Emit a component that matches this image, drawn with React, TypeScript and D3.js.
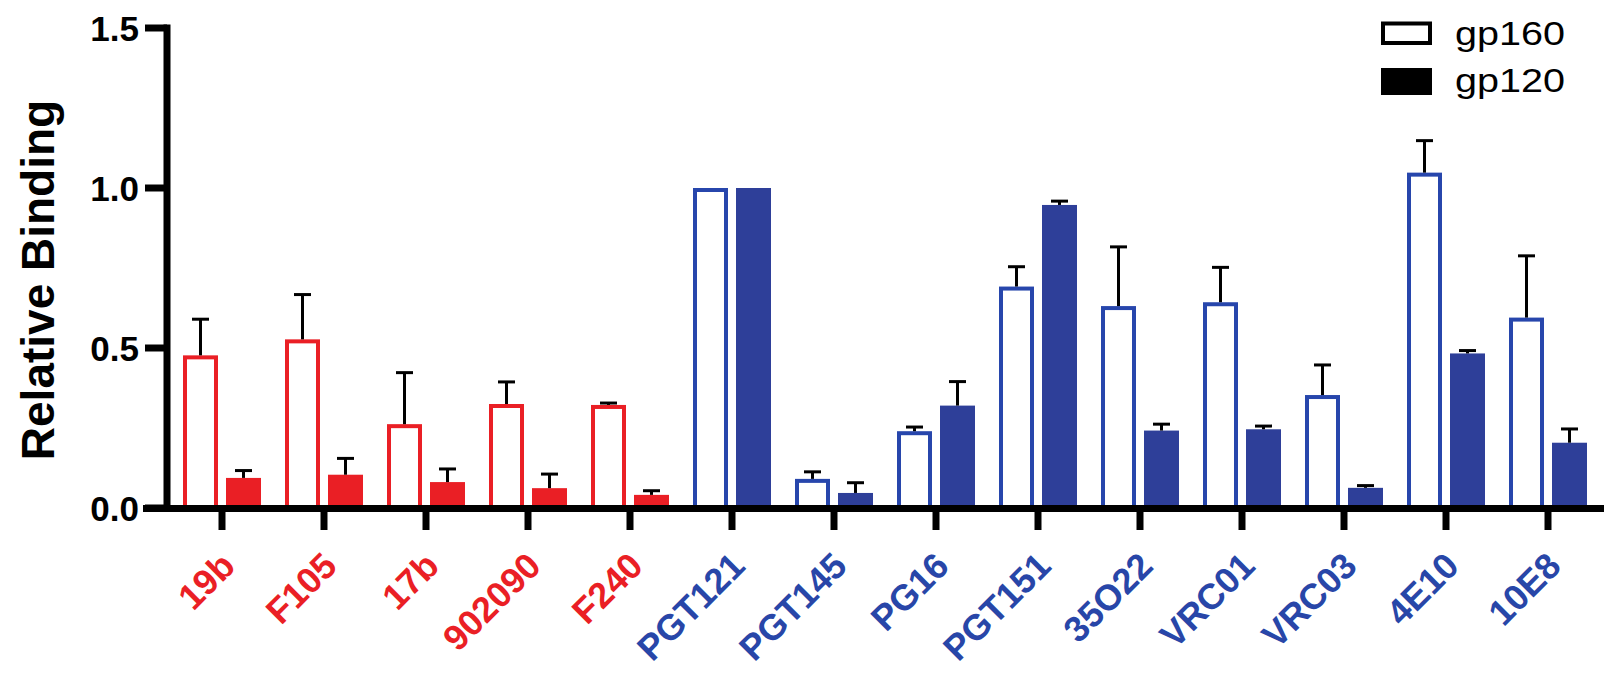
import React from "react";
import * as d3 from "d3";

const categories = ["19b", "F105", "17b", "902090", "F240", "PGT121", "PGT145", "PG16", "PGT151", "35O22", "VRC01", "VRC03", "4E10", "10E8"];
const groups = ["red", "red", "red", "red", "red", "blue", "blue", "blue", "blue", "blue", "blue", "blue", "blue", "blue"];
const gp160Mean = [0.477, 0.527, 0.262, 0.325, 0.322, 1.0, 0.091, 0.24, 0.692, 0.631, 0.643, 0.353, 1.048, 0.595];
const gp160Err = [0.113, 0.14, 0.161, 0.069, 0.006, 0, 0.022, 0.013, 0.062, 0.185, 0.109, 0.094, 0.1, 0.193];
const gp120Mean = [0.094, 0.104, 0.081, 0.062, 0.041, 1.0, 0.047, 0.32, 0.947, 0.242, 0.246, 0.063, 0.483, 0.204];
const gp120Err = [0.023, 0.051, 0.041, 0.044, 0.013, 0, 0.032, 0.075, 0.012, 0.02, 0.01, 0.007, 0.009, 0.043];
const yTicks = [0, 0.5, 1.0, 1.5];
const seriesNames = ["gp160", "gp120"];

const W = 1604;
const H = 681;
const FONT = "'Liberation Sans', Arial, Helvetica, sans-serif";
const RED = "#ea1f25";
const BLUE_FILL = "#2e3f99";
const BLUE_LINE = "#2746ac";
const BLUE_TEXT = "#2846a8";

export default function App() {
  const x = d3.scaleBand<string>().domain(categories).range([171, 171 + 14 * 102]).paddingInner(0).paddingOuter(0);
  const xs = d3.scaleBand<string>().domain(seriesNames).range([-39, 39]).paddingInner(8 / 43).paddingOuter(0);
  const y = d3.scaleLinear().domain([0, 1.5]).range([508, 28]);
  const bw = xs.bandwidth();
  const y0 = y(0);
  const axisX = 167;
  const sw = 4;

  const colorFill = (g: string) => (g === "red" ? RED : BLUE_FILL);
  const colorLine = (g: string) => (g === "red" ? RED : BLUE_LINE);
  const colorText = (g: string) => (g === "red" ? RED : BLUE_TEXT);

  const errBar = (cx: number, v: number, e: number, key: string) => {
    if (e <= 0) return null;
    return (
      <g key={key} stroke="#000" strokeWidth={3}>
        <line x1={cx} x2={cx} y1={y(v)} y2={y(v + e)} />
        <line x1={cx - 8.5} x2={cx + 8.5} y1={y(v + e)} y2={y(v + e)} />
      </g>
    );
  };

  return (
    <svg width={W} height={H} style={{ position: "absolute", left: 0, top: 0, background: "#fff" }} fontFamily={FONT}>
      <rect x={0} y={0} width={W} height={H} fill="#fff" />
      {categories.map((c, i) => {
        const cx = (x(c) as number) + x.bandwidth() / 2;
        const xo = cx + (xs("gp160") as number);
        const xf = cx + (xs("gp120") as number);
        const g = groups[i];
        const vo = gp160Mean[i];
        const vf = gp120Mean[i];
        return (
          <g key={c}>
            <rect x={xo + sw / 2} y={y(vo) + sw / 2} width={bw - sw} height={y0 - y(vo) - sw / 2} fill="#fff" stroke={colorLine(g)} strokeWidth={sw} />
            <rect x={xf} y={y(vf)} width={bw} height={y0 - y(vf)} fill={colorFill(g)} />
            {errBar(xo + bw / 2, vo, gp160Err[i], c + "e1")}
            {errBar(xf + bw / 2, vf, gp120Err[i], c + "e2")}
          </g>
        );
      })}
      {/* Y axis */}
      <line x1={axisX} x2={axisX} y1={y(1.5) - 3.5} y2={y0 + 3.5} stroke="#000" strokeWidth={7} />
      {yTicks.map((t) => (
        <g key={t}>
          <line x1={145} x2={axisX} y1={y(t)} y2={y(t)} stroke="#000" strokeWidth={7} />
          <text x={139} y={y(t)} dy="0.36em" textAnchor="end" fontSize={35} fontWeight="bold" fill="#000">
            {d3.format(".1f")(t)}
          </text>
        </g>
      ))}
      {/* X axis */}
      <line x1={143} x2={W} y1={y0 + 0.5} y2={y0 + 0.5} stroke="#000" strokeWidth={7} />
      {categories.map((c, i) => {
        const cx = (x(c) as number) + x.bandwidth() / 2;
        return (
          <g key={c + "t"}>
            <line x1={cx} x2={cx} y1={y0} y2={530} stroke="#000" strokeWidth={7} />
            <text
              transform={`translate(${cx + 15},${568}) rotate(-45)`}
              textAnchor="end"
              fontSize={36}
              fontWeight="bold"
              fill={colorText(groups[i])}
            >
              {c}
            </text>
          </g>
        );
      })}
      {/* Y label */}
      <text transform={`translate(54,${280}) rotate(-90)`} textAnchor="middle" fontSize={46} fontWeight="bold" fill="#000">
        Relative Binding
      </text>
      {/* Legend */}
      <rect x={1383} y={23.5} width={47} height={19.5} fill="#fff" stroke="#000" strokeWidth={4} />
      <text x={1455} y={45} fontSize={32.5} fill="#000" textLength={110} lengthAdjust="spacingAndGlyphs">
        gp160
      </text>
      <rect x={1381} y={68} width={51} height={27} fill="#000" />
      <text x={1455} y={92} fontSize={32.5} fill="#000" textLength={110} lengthAdjust="spacingAndGlyphs">
        gp120
      </text>
    </svg>
  );
}
